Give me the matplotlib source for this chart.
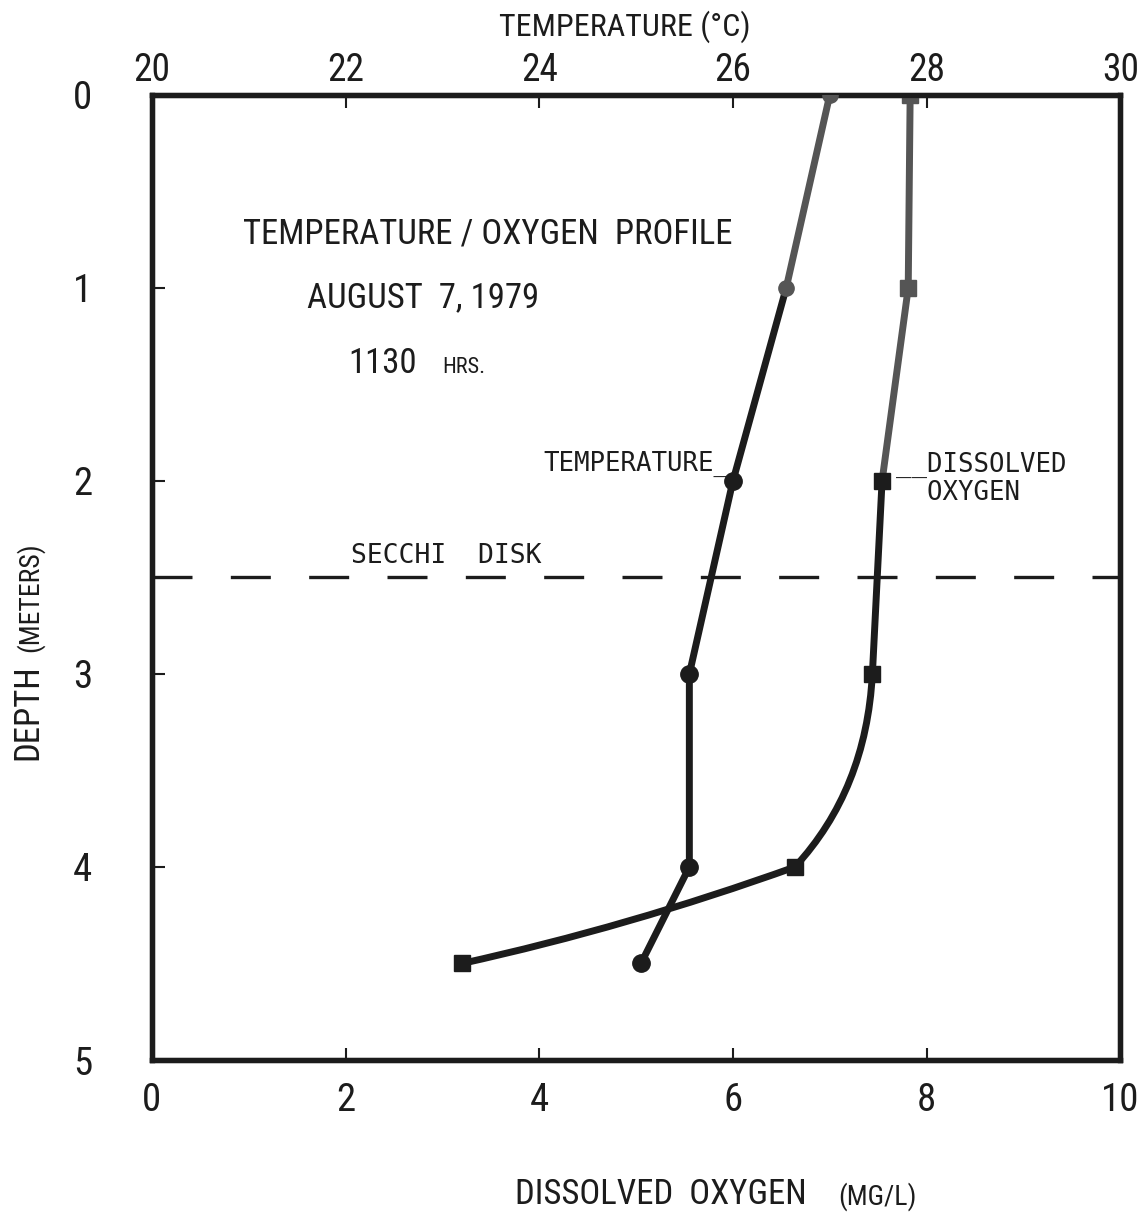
import matplotlib
matplotlib.use("Agg")
import matplotlib.pyplot as plt
from matplotlib.path import Path
from matplotlib.patches import PathPatch
from matplotlib import font_manager

# ---- data ----
depth = [0, 1, 2, 3, 4, 4.5]
temperature = [27.0, 26.55, 26.0, 25.55, 25.55, 25.05]   # deg C (top axis)
dissolved_oxygen = [7.83, 7.81, 7.54, 7.44, 6.64, 3.2]    # mg/L (bottom axis)
secchi_depth = 2.5
do_ticks = [0, 2, 4, 6, 8, 10]
temp_ticks = [20, 22, 24, 26, 28, 30]
depth_ticks = [0, 1, 2, 3, 4, 5]

avail = {f.name for f in font_manager.fontManager.ttflist}
narrow = 'DejaVu Sans'
for cand in ['Roboto Condensed', 'Liberation Sans Narrow', 'DejaVu Sans Condensed']:
    if cand in avail:
        narrow = cand
        break
plt.rcParams['font.family'] = [narrow, 'DejaVu Sans']
MONO = ['DejaVu Sans Mono', 'DejaVu Sans']

INK = '#1c1c1c'
GREY = '#555555'
LW = 5

fig = plt.figure(figsize=(11.42, 12.17), dpi=100)
ax = fig.add_axes([0.133, 0.129, 0.848, 0.793])
ax.set_xlim(0, 10)
ax.set_ylim(5, 0)

axt = ax.twiny()
axt.set_xlim(20, 30)


def path_line(axis, xs, ys, codes, color, lw):
    p = Path(list(zip(xs, ys)), codes)
    axis.add_patch(PathPatch(p, fill=False, edgecolor=color, lw=lw,
                             capstyle='round', joinstyle='round', zorder=3))


# temperature line (top axis)
axt.plot(temperature[:2], depth[:2], color=GREY, lw=LW, solid_capstyle='round', zorder=3)
axt.plot(temperature[1:], depth[1:], color=INK, lw=LW, solid_capstyle='round',
         solid_joinstyle='round', zorder=3)
axt.plot(temperature[:2], depth[:2], 'o', color=GREY, ms=11, zorder=4)
axt.plot(temperature[2:], depth[2:], 'o', color=INK, ms=12.5, zorder=4)

# dissolved oxygen line (bottom axis)
x, y = dissolved_oxygen, depth
ax.plot(x[:3], y[:3], color=GREY, lw=LW, solid_capstyle='round', zorder=3)
ax.plot(x[2:4], y[2:4], color=INK, lw=LW, solid_capstyle='round', zorder=3)
c1 = (x[3] - 0.08 * (x[3] - x[4]), y[3] + 0.6 * (y[4] - y[3]))
path_line(ax, [x[3], c1[0], x[4]], [y[3], c1[1], y[4]],
          [Path.MOVETO, Path.CURVE3, Path.CURVE3], INK, LW)
c2 = (x[4] - 0.5 * (x[4] - x[5]), y[4] + 0.62 * (y[5] - y[4]))
path_line(ax, [x[4], c2[0], x[5]], [y[4], c2[1], y[5]],
          [Path.MOVETO, Path.CURVE3, Path.CURVE3], INK, LW)
ax.plot(x[:2], y[:2], 's', color=GREY, ms=11, zorder=4)
ax.plot(x[2:], y[2:], 's', color=INK, ms=11.5, zorder=4)

# secchi disk
ax.axhline(secchi_depth, color=INK, lw=2.4, ls=(0, (12, 11.5)), zorder=2)

for a in (ax, axt):
    for s in a.spines.values():
        s.set_linewidth(3.8)
        s.set_color(INK)

ax.set_xticks(do_ticks)
ax.set_xticklabels([str(v) for v in do_ticks])
ax.set_yticks(depth_ticks)
ax.set_yticklabels([str(v) for v in depth_ticks])
axt.set_xticks(temp_ticks)
axt.set_xticklabels([str(v) for v in temp_ticks])

ax.tick_params(axis='x', direction='in', length=9, width=1.5, labelsize=28, pad=16, colors=INK)
ax.tick_params(axis='y', direction='in', length=9, width=1.5, labelsize=28, pad=43, colors=INK)
axt.tick_params(axis='x', direction='in', length=9, width=1.5, labelsize=27, pad=4, colors=INK)

# axis titles
fig.text(661 / 1142, 1 - 1195 / 1217, 'DISSOLVED  OXYGEN', fontsize=25, ha='center',
         va='center', color=INK)
fig.text(877 / 1142, 1 - 1197 / 1217, '(MG/L)', fontsize=20, ha='center',
         va='center', color=INK)
fig.text(28 / 1142, 1 - 712 / 1217, 'DEPTH', fontsize=25, ha='center', va='center',
         rotation=90, color=INK)
fig.text(30 / 1142, 1 - 597 / 1217, '(METERS)', fontsize=20, ha='center', va='center',
         rotation=90, color=INK)
fig.text(625 / 1142, 1 - 27 / 1217, 'TEMPERATURE (°C)', fontsize=23, ha='center',
         va='center', color=INK)

# annotations
ax.text(3.47, 0.72, 'TEMPERATURE / OXYGEN  PROFILE', fontsize=25, ha='center', va='center', color=INK)
ax.text(2.8, 1.05, 'AUGUST  7, 1979', fontsize=25, ha='center', va='center', color=INK)
ax.text(2.03, 1.39, '1130', fontsize=25, ha='left', va='center', color=INK)
ax.text(3.0, 1.41, 'HRS.', fontsize=16, ha='left', va='center', color=INK)
ax.text(4.04, 1.91, 'TEMPERATURE_', fontsize=18.5, ha='left', va='center', color=INK, family=MONO)
ax.text(7.68, 1.99, '__DISSOLVED\n  OXYGEN', fontsize=18.5, ha='left', va='center', color=INK,
        linespacing=1.1, family=MONO)
ax.text(2.06, 2.39, 'SECCHI  DISK', fontsize=19, ha='left', va='center', color=INK, family=MONO)

fig.savefig('out.png', dpi=100)
